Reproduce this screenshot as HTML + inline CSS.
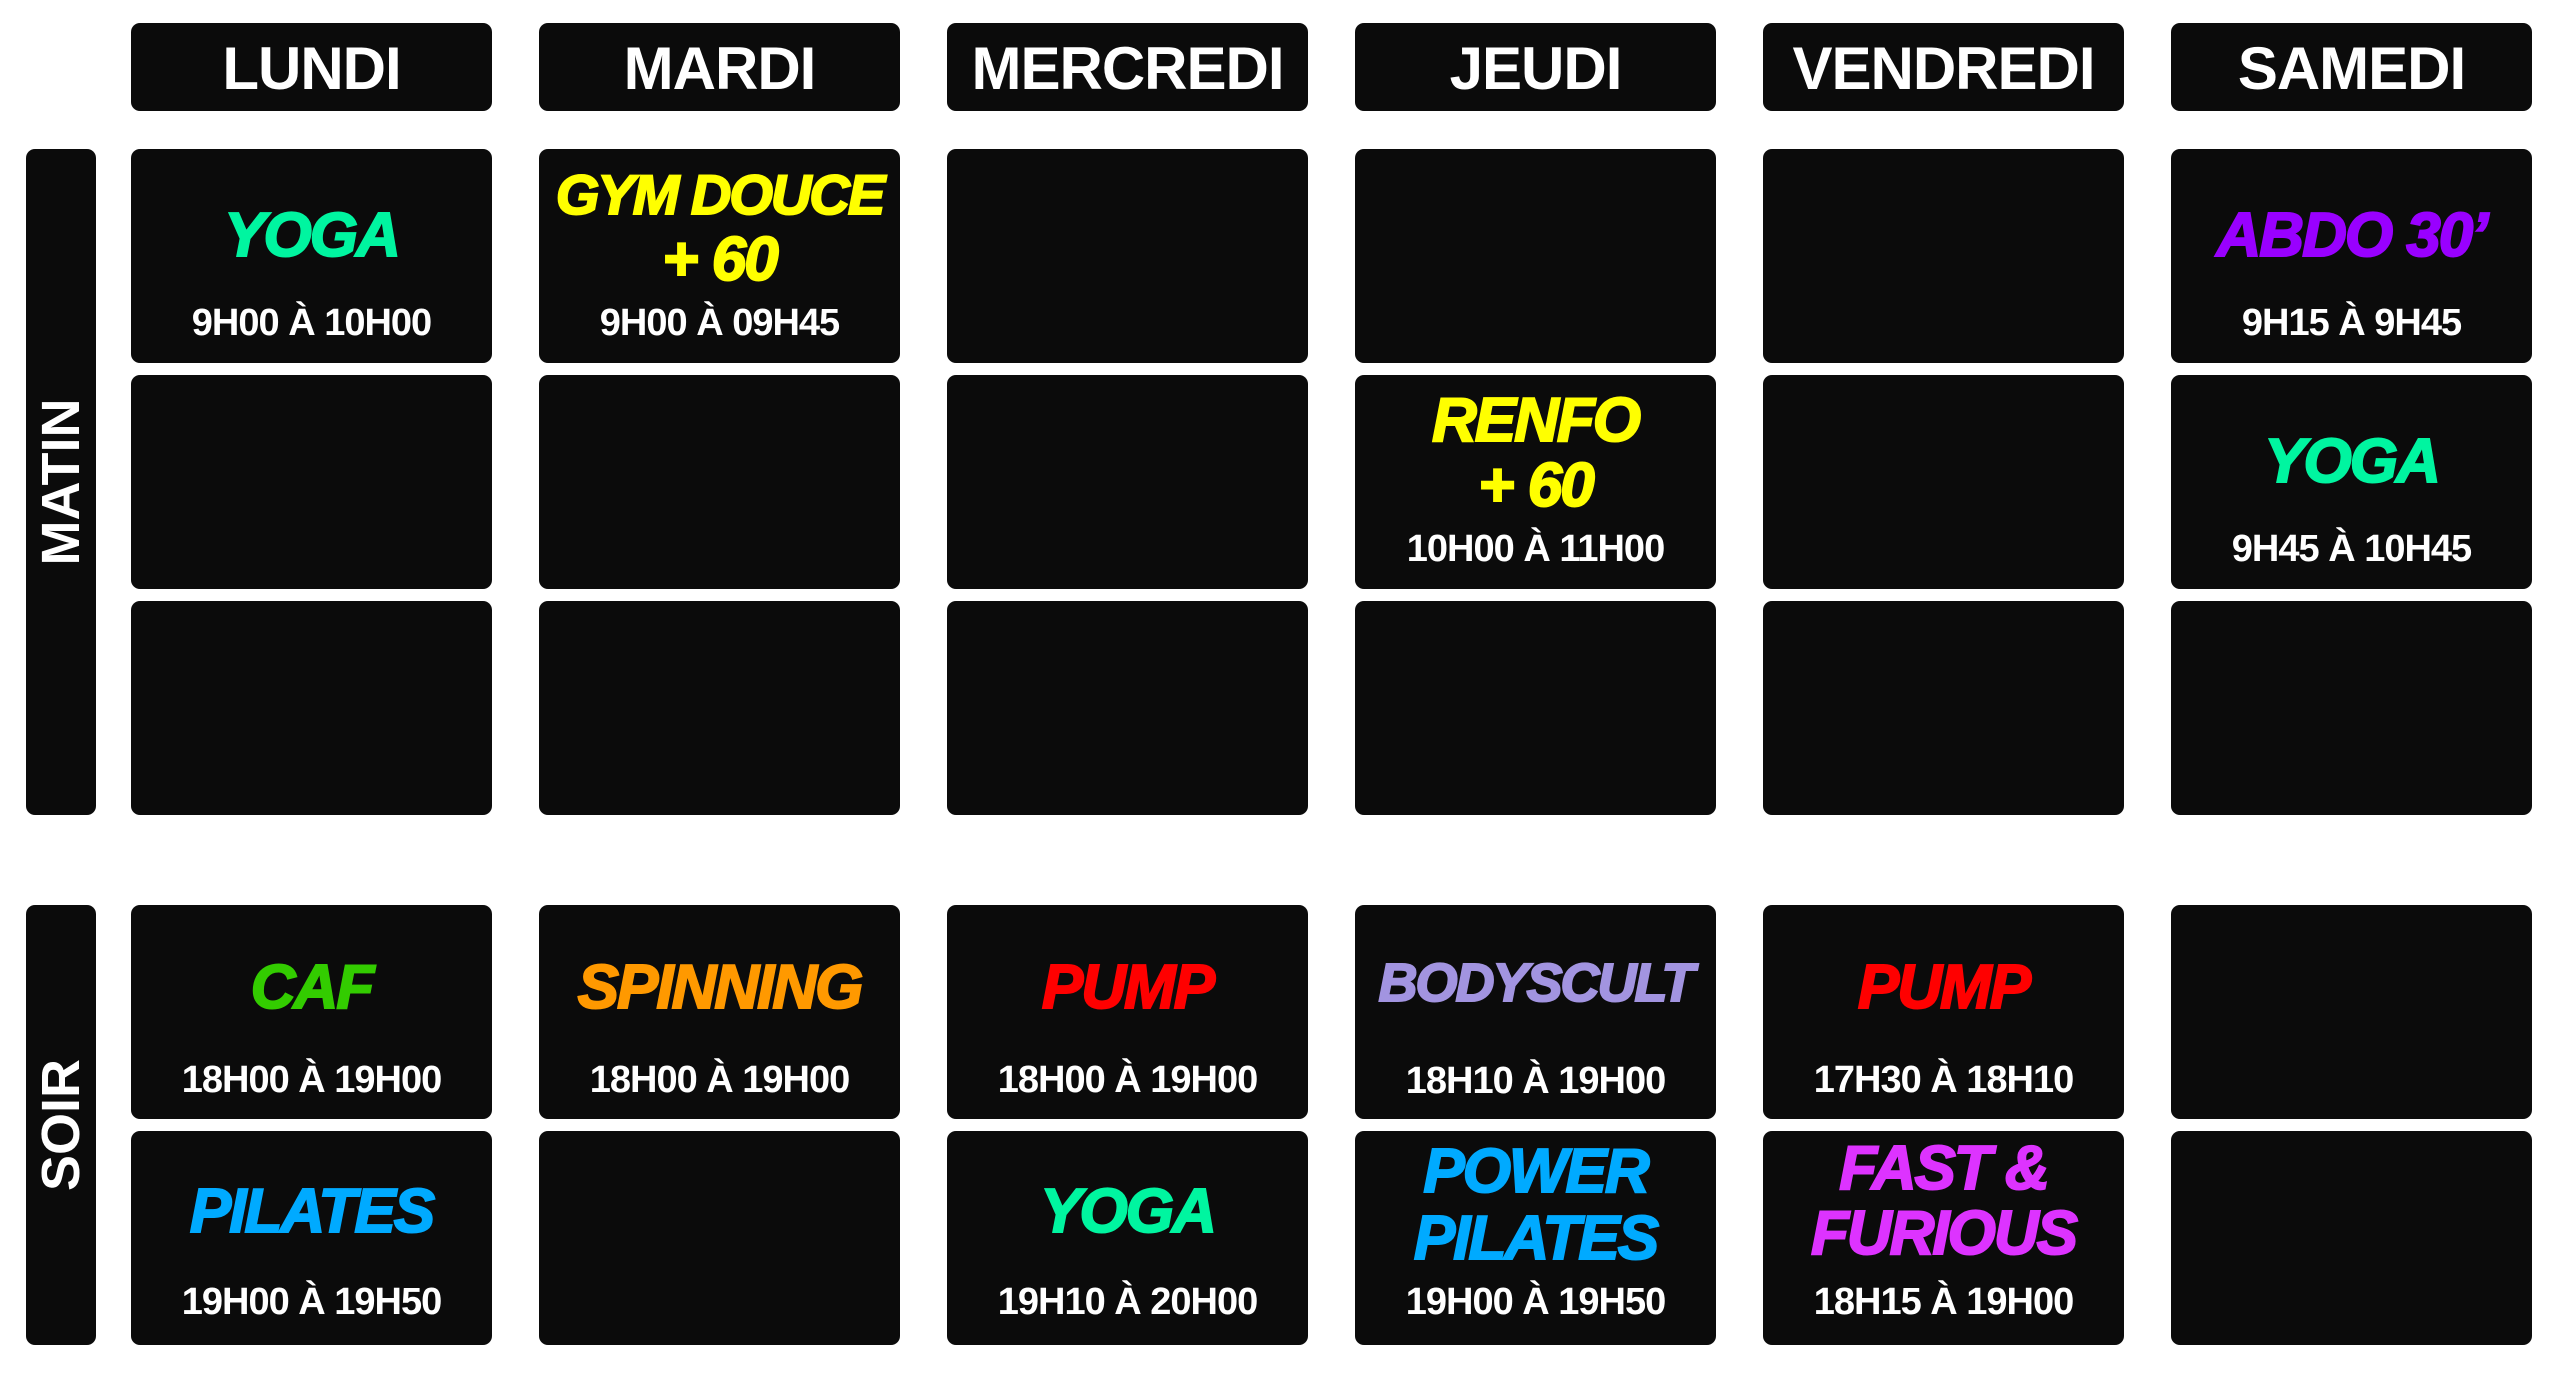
<!DOCTYPE html>
<html><head><meta charset="utf-8"><style>
body{margin:0;width:2560px;height:1373px;background:#fff;position:relative;overflow:hidden;font-family:"Liberation Sans",sans-serif;}
.b{position:absolute;background:#0b0b0b;border-radius:9px;}
.l{position:absolute;left:0;width:100%;text-align:center;line-height:1;font-weight:bold;white-space:nowrap;}
.h{font-size:60px;color:#fff;top:16px;letter-spacing:-1px;}
.t{font-size:62px;font-style:italic;letter-spacing:-2px;-webkit-text-stroke:2px currentColor;}
.m{font-size:38px;color:#fff;letter-spacing:-1px;}
.side{position:absolute;left:26px;width:70px;background:#0b0b0b;border-radius:9px;}
.side span{position:absolute;left:50%;top:50%;transform:translate(-50%,-50%) rotate(-90deg);color:#fff;font-weight:bold;font-size:54px;white-space:nowrap;}
</style></head><body>
<div class="side" style="top:149px;height:666px"><span>MATIN</span></div>
<div class="side" style="top:905px;height:440px"><span>SOIR</span></div>

<div class="b" style="left:131px;top:23px;width:361px;height:88px"><div class="l h">LUNDI</div></div>
<div class="b" style="left:539px;top:23px;width:361px;height:88px"><div class="l h">MARDI</div></div>
<div class="b" style="left:947px;top:23px;width:361px;height:88px"><div class="l h">MERCREDI</div></div>
<div class="b" style="left:1355px;top:23px;width:361px;height:88px"><div class="l h">JEUDI</div></div>
<div class="b" style="left:1763px;top:23px;width:361px;height:88px"><div class="l h">VENDREDI</div></div>
<div class="b" style="left:2171px;top:23px;width:361px;height:88px"><div class="l h">SAMEDI</div></div>

<!-- matin row 0 -->
<div class="b" style="left:131px;top:149px;width:361px;height:214px"><div class="l t" style="top:56px;color:#00f5a0">YOGA</div><div class="l m" style="top:155px">9H00 À 10H00</div></div>
<div class="b" style="left:539px;top:149px;width:361px;height:214px"><div class="l t" style="top:18px;font-size:56px;color:#ffff00">GYM DOUCE</div><div class="l t" style="top:80px;color:#ffff00">+ 60</div><div class="l m" style="top:155px">9H00 À 09H45</div></div>
<div class="b" style="left:947px;top:149px;width:361px;height:214px"></div>
<div class="b" style="left:1355px;top:149px;width:361px;height:214px"></div>
<div class="b" style="left:1763px;top:149px;width:361px;height:214px"></div>
<div class="b" style="left:2171px;top:149px;width:361px;height:214px"><div class="l t" style="top:56px;color:#9900ff">ABDO 30’</div><div class="l m" style="top:155px">9H15 À 9H45</div></div>

<!-- matin row 1 -->
<div class="b" style="left:131px;top:375px;width:361px;height:214px"></div>
<div class="b" style="left:539px;top:375px;width:361px;height:214px"></div>
<div class="b" style="left:947px;top:375px;width:361px;height:214px"></div>
<div class="b" style="left:1355px;top:375px;width:361px;height:214px"><div class="l t" style="top:15px;color:#ffff00">RENFO</div><div class="l t" style="top:80px;color:#ffff00">+ 60</div><div class="l m" style="top:155px">10H00 À 11H00</div></div>
<div class="b" style="left:1763px;top:375px;width:361px;height:214px"></div>
<div class="b" style="left:2171px;top:375px;width:361px;height:214px"><div class="l t" style="top:56px;color:#00f5a0">YOGA</div><div class="l m" style="top:155px">9H45 À 10H45</div></div>

<!-- matin row 2 -->
<div class="b" style="left:131px;top:601px;width:361px;height:214px"></div>
<div class="b" style="left:539px;top:601px;width:361px;height:214px"></div>
<div class="b" style="left:947px;top:601px;width:361px;height:214px"></div>
<div class="b" style="left:1355px;top:601px;width:361px;height:214px"></div>
<div class="b" style="left:1763px;top:601px;width:361px;height:214px"></div>
<div class="b" style="left:2171px;top:601px;width:361px;height:214px"></div>

<!-- soir row 0 -->
<div class="b" style="left:131px;top:905px;width:361px;height:214px"><div class="l t" style="top:52px;color:#33cc00">CAF</div><div class="l m" style="top:156px">18H00 À 19H00</div></div>
<div class="b" style="left:539px;top:905px;width:361px;height:214px"><div class="l t" style="top:52px;color:#ff9900">SPINNING</div><div class="l m" style="top:156px">18H00 À 19H00</div></div>
<div class="b" style="left:947px;top:905px;width:361px;height:214px"><div class="l t" style="top:52px;color:#ff0000">PUMP</div><div class="l m" style="top:156px">18H00 À 19H00</div></div>
<div class="b" style="left:1355px;top:905px;width:361px;height:214px"><div class="l t" style="top:51px;font-size:54px;color:#a294e0">BODYSCULT</div><div class="l m" style="top:157px">18H10 À 19H00</div></div>
<div class="b" style="left:1763px;top:905px;width:361px;height:214px"><div class="l t" style="top:52px;color:#ff0000">PUMP</div><div class="l m" style="top:156px">17H30 À 18H10</div></div>
<div class="b" style="left:2171px;top:905px;width:361px;height:214px"></div>

<!-- soir row 1 -->
<div class="b" style="left:131px;top:1131px;width:361px;height:214px"><div class="l t" style="top:50px;color:#00aaff">PILATES</div><div class="l m" style="top:152px">19H00 À 19H50</div></div>
<div class="b" style="left:539px;top:1131px;width:361px;height:214px"></div>
<div class="b" style="left:947px;top:1131px;width:361px;height:214px"><div class="l t" style="top:50px;color:#00f5a0">YOGA</div><div class="l m" style="top:152px">19H10 À 20H00</div></div>
<div class="b" style="left:1355px;top:1131px;width:361px;height:214px"><div class="l t" style="top:10px;color:#00aaff">POWER</div><div class="l t" style="top:77px;color:#00aaff">PILATES</div><div class="l m" style="top:152px">19H00 À 19H50</div></div>
<div class="b" style="left:1763px;top:1131px;width:361px;height:214px"><div class="l t" style="top:7px;color:#dd33ff">FAST &amp;</div><div class="l t" style="top:72px;color:#dd33ff">FURIOUS</div><div class="l m" style="top:152px">18H15 À 19H00</div></div>
<div class="b" style="left:2171px;top:1131px;width:361px;height:214px"></div>
</body></html>
